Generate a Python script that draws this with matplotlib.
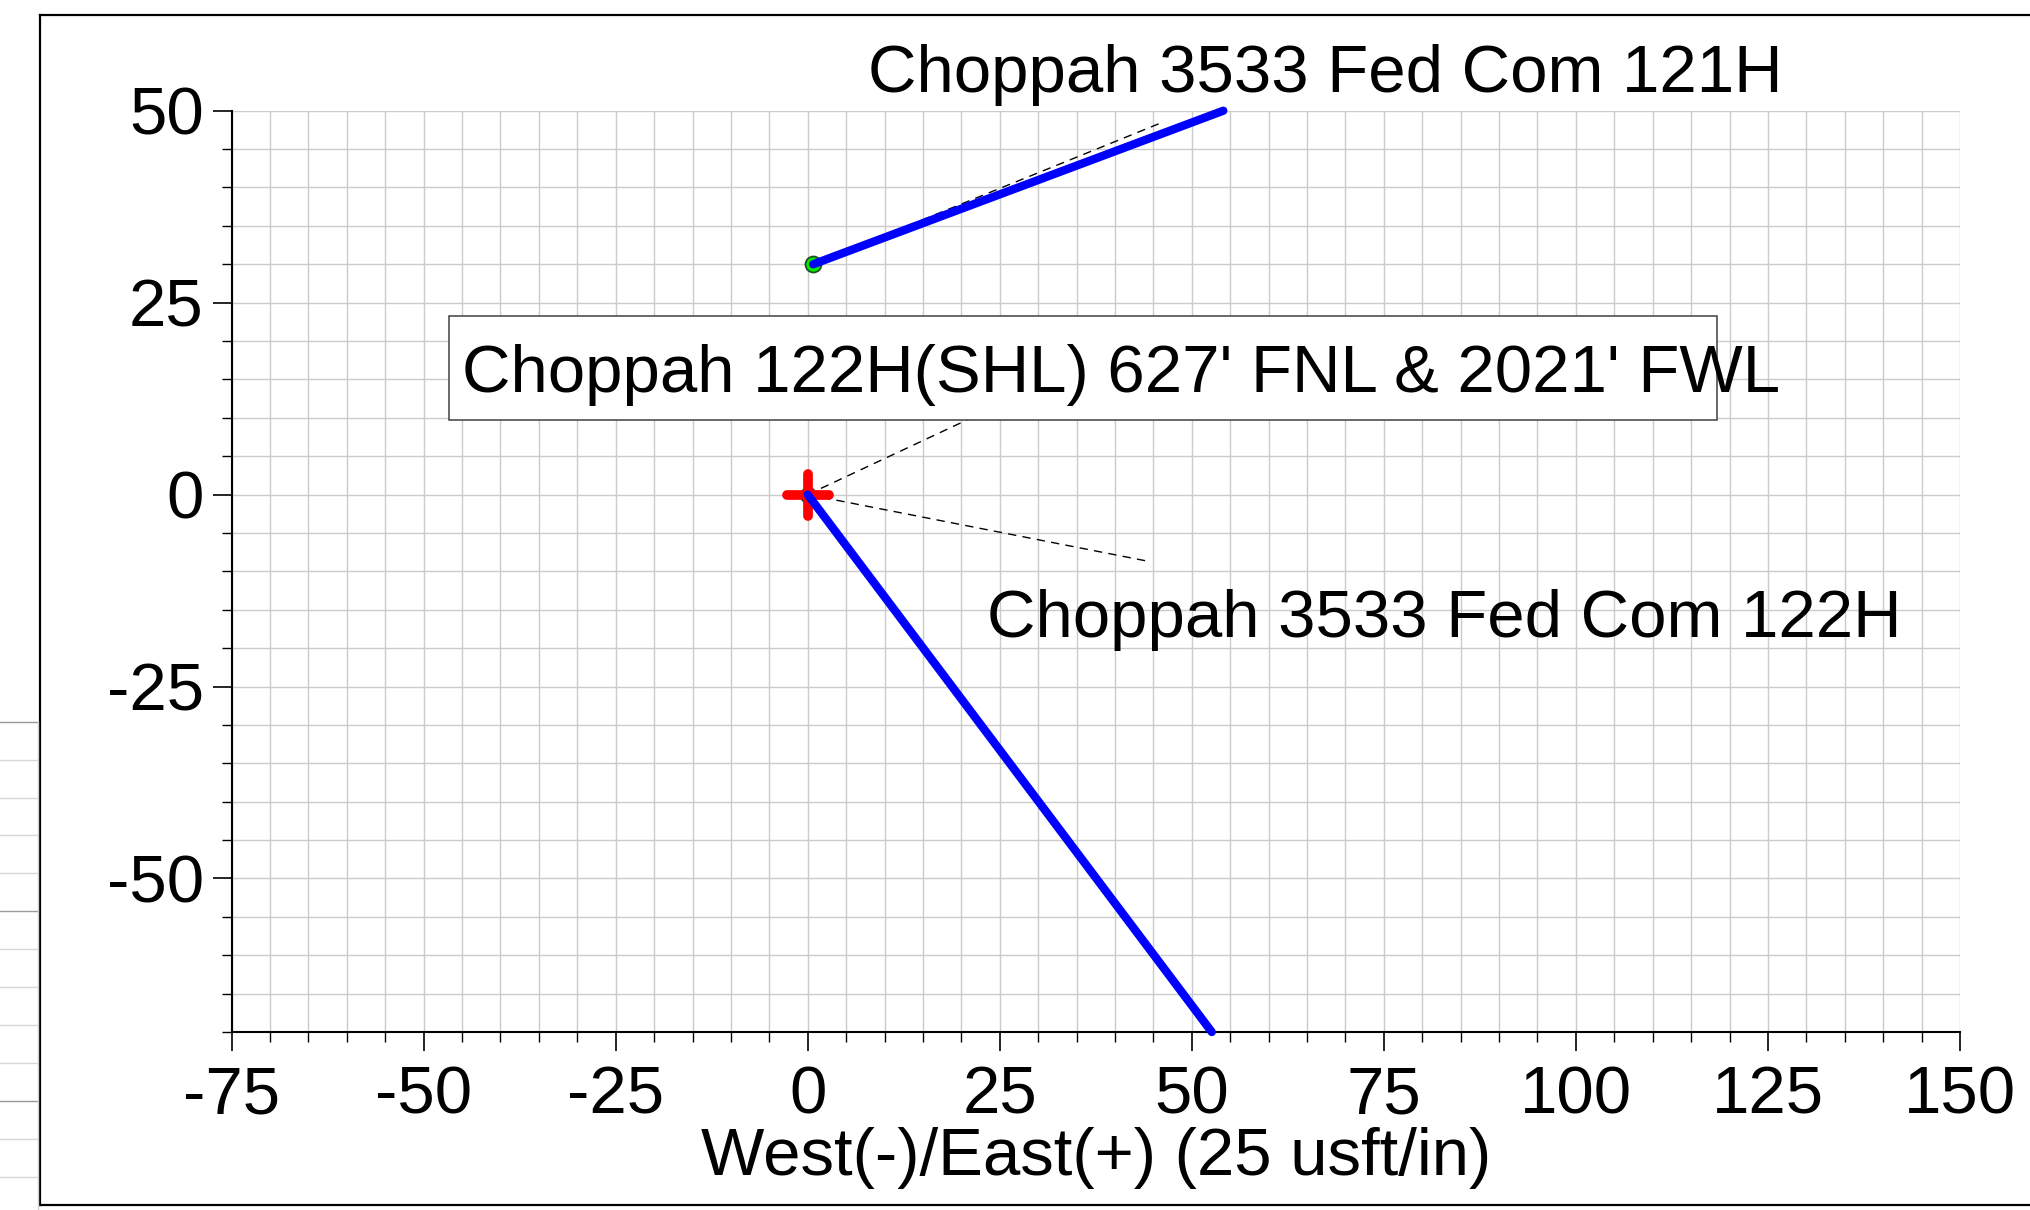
import matplotlib
matplotlib.use("Agg")
import matplotlib.pyplot as plt
from matplotlib.lines import Line2D
from matplotlib.patches import Rectangle
from matplotlib.markers import MarkerStyle
from matplotlib.ticker import MultipleLocator

plt.rcParams["font.family"] = ["Liberation Sans", "DejaVu Sans"]
plt.rcParams["axes.unicode_minus"] = False

# well paths (usft, E/W vs N/S)
well_121h_x = [0.7, 54.1]
well_121h_y = [30.0, 50.0]
well_122h_x = [0.0, 52.6]
well_122h_y = [0.0, -70.0]

# surface location
shl_x = [0.0]
shl_y = [0.0]

# well labels and their leader lines
label_text = ["Choppah 3533 Fed Com 121H", "Choppah 3533 Fed Com 122H"]
label_x = [7.9, 23.4]
label_y = [52.5, -18.5]
leader_end_x = [46.2, 44.4]
leader_end_y = [48.5, -8.7]

shl_text = "Choppah 122H(SHL) 627' FNL & 2021' FWL"
shl_text_xy = (-45.0, 13.4)
shl_box = (-46.7, 9.7, 118.4, 23.3)
shl_leader_end = (20.9, 9.8)

x_ticks = [-75, -50, -25, 0, 25, 50, 75, 100, 125, 150]
y_ticks = [-50, -25, 0, 25, 50]

fs = 48.3

fig = plt.figure(figsize=(20.3, 12.1), dpi=100)
ax = fig.add_axes([0.1141, 0.1471, 0.8514, 0.7614])

ax.set_xlim(-75, 150)
ax.set_ylim(-70, 50)
ax.set_xticks(x_ticks)
ax.set_yticks(y_ticks)
ax.xaxis.set_minor_locator(MultipleLocator(5))
ax.yaxis.set_minor_locator(MultipleLocator(5))
ax.set_axisbelow(True)
ax.grid(which="both", color="#cbcbcb", lw=1.0)
ax.spines["top"].set_visible(False)
ax.spines["right"].set_visible(False)
for s in ["left", "bottom"]:
    ax.spines[s].set_linewidth(1.5)
ax.tick_params(which="major", direction="out", length=14, width=1.2, labelsize=fs)
ax.tick_params(which="minor", direction="out", length=7, width=1.0)
ax.tick_params(axis="x", which="major", pad=10)
ax.tick_params(axis="y", which="major", pad=6)
ax.set_xlabel("West(-)/East(+) (25 usft/in)", fontsize=fs, labelpad=-0.5)

# leader lines
starts = [(well_121h_x[0], well_121h_y[0]), (well_122h_x[0], well_122h_y[0])]
for (sx, sy), ex, ey in zip(starts, leader_end_x, leader_end_y):
    ax.plot([sx, ex], [sy, ey], color="black", lw=1.0, dashes=(6, 4.5), zorder=3)
ax.plot([shl_x[0], shl_leader_end[0]], [shl_y[0], shl_leader_end[1]],
        color="black", lw=1.0, dashes=(6, 4.5), zorder=3)

# SHL box label
x0, y0, x1, y1 = shl_box
ax.add_patch(Rectangle((x0, y0), x1 - x0, y1 - y0, facecolor="white",
                       edgecolor="#404040", lw=1.1, zorder=4))
ax.text(shl_text_xy[0], shl_text_xy[1], shl_text, fontsize=fs,
        va="baseline", ha="left", zorder=5)

for t, x, y in zip(label_text, label_x, label_y):
    ax.text(x, y, t, fontsize=fs, va="baseline", ha="left", zorder=5)

# markers
ax.plot(shl_x, shl_y, "o", ms=11, mfc="#00ee00", mec="#1f4f1f", mew=1.3, zorder=5)
plus = MarkerStyle("+", capstyle="round")
ax.plot(shl_x, shl_y, marker=plus, ms=30, mew=7, color="red", ls="none", zorder=6)
ax.plot(well_121h_x[:1], well_121h_y[:1], "o", ms=11.5, mfc="#00ee00", mec="#1f4f1f",
        mew=1.3, zorder=6)

# well paths
for xs, ys in [(well_121h_x, well_121h_y), (well_122h_x, well_122h_y)]:
    ax.plot(xs, ys, color="#0000ff", lw=6, solid_capstyle="round", clip_on=False, zorder=7)

# outer frame
W, H = 2030.0, 1210.0
fl, ft, fb = 40 / W, 1 - 15 / H, 1 - 1205 / H
for xs, ys in [([fl, 1.0], [ft, ft]), ([fl, fl], [fb, ft]), ([fl, 1.0], [fb, fb])]:
    fig.add_artist(Line2D(xs, ys, color="black", lw=1.6, transform=fig.transFigure))

# leftover grid strip at the left edge
for k in range(13):
    yy = 1 - (721.7 + 37.9 * k) / H
    c = "#9a9a9a" if k % 5 == 0 else "#d8d8d8"
    fig.add_artist(Line2D([0, 37 / W], [yy, yy], color=c, lw=1.0, transform=fig.transFigure))
fig.add_artist(Line2D([37.7 / W, 37.7 / W], [0, 1 - 721.7 / H], color="#d0d0d0", lw=1.0,
                      transform=fig.transFigure))

fig.savefig("out.png", dpi=100)
